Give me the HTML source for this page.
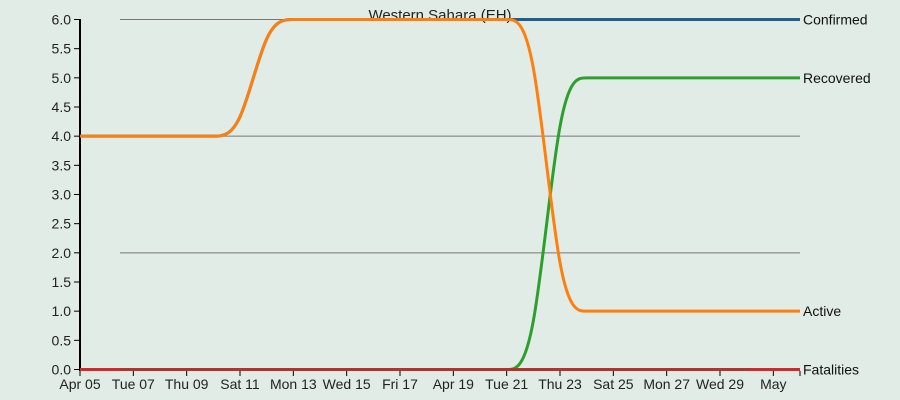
<!DOCTYPE html>
<html><head><meta charset="utf-8"><style>
html,body{margin:0;padding:0;background:#e2ece6;}
svg{display:block;font-family:"Liberation Sans",sans-serif;}
</style></head><body>
<svg id="chart" width="900" height="400">
<rect width="900" height="400" fill="#e2ece6"/>
<text x="440" y="20" text-anchor="middle" font-size="15" fill="#222">Western Sahara (EH)</text>
<g id="grid"></g><g id="axes"></g><g id="series"></g><g id="labels"></g>
</svg>
<script>
const days = 28; // Apr 05 .. May 02
const confirmed = [4,4,4,4,4,4,4,6,6,6,6,6,6,6,6,6,6,6,6,6,6,6,6,6,6,6,6,6];
const recovered = [0,0,0,0,0,0,0,0,0,0,0,0,0,0,0,0,0,0,5,5,5,5,5,5,5,5,5,5];
const fatalities = [0,0,0,0,0,0,0,0,0,0,0,0,0,0,0,0,0,0,0,0,0,0,0,0,0,0,0,0];
const yTicks = [0,0.5,1,1.5,2,2.5,3,3.5,4,4.5,5,5.5,6];
const gridVals = [2,4,6];
const xTickLabels = ["Apr 05","Tue 07","Thu 09","Sat 11","Mon 13","Wed 15","Fri 17","Apr 19","Tue 21","Thu 23","Sat 25","Mon 27","Wed 29","May"];
const active = confirmed.map((c,i)=>c-recovered[i]-fatalities[i]);

const NS="http://www.w3.org/2000/svg";
const x0=80,x1=800,y0=369.5,y1=19.5;
const xs=i=>x0+(x1-x0)*i/(days-1);
const ys=v=>y0-(y0-y1)*v/6;
function mk(tag,attrs,parent){const e=document.createElementNS(NS,tag);for(const k in attrs)e.setAttribute(k,attrs[k]);parent.appendChild(e);return e;}
const grid=document.getElementById('grid'),axes=document.getElementById('axes'),series=document.getElementById('series'),labels=document.getElementById('labels');

gridVals.forEach(v=>{
  const l=mk('line',{x1:120,x2:800,y1:ys(v),y2:ys(v),stroke:'#777','stroke-width':1},grid);
  
  
});
const ya=mk('line',{x1:80,x2:80,y1:19,y2:371,stroke:'#000','stroke-width':2},axes);


yTicks.forEach(v=>{
  mk('line',{x1:74,x2:80,y1:ys(v),y2:ys(v),stroke:'#000','stroke-width':1},axes);
  const t=mk('text',{x:71,y:ys(v)+5,'text-anchor':'end','font-size':14,fill:'#222'},axes);
  t.textContent=v.toFixed(1);
  
  
});
xTickLabels.forEach((s,k)=>{
  const x=xs(k*2);
  mk('line',{x1:x,x2:x,y1:371,y2:376,stroke:'#000','stroke-width':1},axes);
  const t=mk('text',{x:x,y:389,'text-anchor':'middle','font-size':14,fill:'#222'},axes);
  t.textContent=s;
  
  
});
mk('line',{x1:800,x2:800,y1:371,y2:376,stroke:'#000','stroke-width':1},axes);

function basis(vals){
  const p=vals.map((v,i)=>[xs(i),ys(v)]);
  let d=`M${p[0][0]},${p[0][1]}`;
  const P=[p[0],...p,p[p.length-1]];
  for(let i=1;i<P.length-2;i++){
    const b=P[i],c=P[i+1],e=P[i+2];
    const c1=[(2*b[0]+c[0])/3,(2*b[1]+c[1])/3];
    const c2=[(b[0]+2*c[0])/3,(b[1]+2*c[1])/3];
    const end=[(b[0]+4*c[0]+e[0])/6,(b[1]+4*c[1]+e[1])/6];
    d+=` C${c1[0]},${c1[1]} ${c2[0]},${c2[1]} ${end[0]},${end[1]}`;
  }
  const L=p[p.length-1];
  d+=` L${L[0]},${L[1]}`;
  return d;
}
const defs=[
  ['confirmed',confirmed,'#1f5f8f','Confirmed'],
  ['recovered',recovered,'#2ca02c','Recovered'],
  ['fatalities',fatalities,'#d62728','Fatalities'],
  ['active',active,'#ff7f0e','Active']
];
defs.forEach(([n,vals,col,lab])=>{
  const p=mk('path',{d:basis(vals),fill:'none',stroke:col,'stroke-width':3},series);
  
  
  const t=mk('text',{x:803,y:ys(vals[vals.length-1])+5,'font-size':14,fill:'#111'},labels);
  t.textContent=lab;
  
  
});
const zl=mk('line',{x1:120,x2:750,y1:ys(0),y2:ys(0),stroke:'#553',opacity:0.35,'stroke-width':2},series);


</script>
</body></html>
